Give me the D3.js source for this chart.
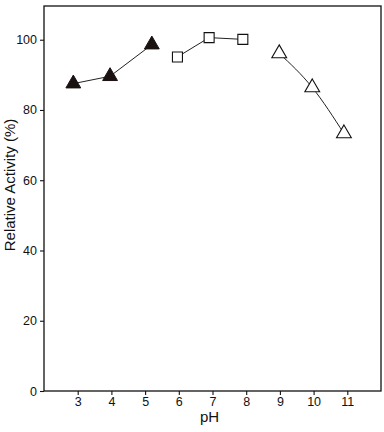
<!DOCTYPE html>
<html>
<head>
<meta charset="utf-8">
<script src="https://cdn.jsdelivr.net/npm/d3@7"></script>
<style>
  body { margin: 0; background: #fff; }
  svg text { font-family: "Liberation Sans", Arial, sans-serif; fill: #111; }
</style>
</head>
<body>
<svg id="svg" width="384" height="432"></svg>
<script>
// pH activity profile, three buffer systems
const acidPH = [2.87, 3.96, 5.2];
const acidAct = [87.5, 89.6, 98.6];
const neutralPH = [5.96, 6.9, 7.9];
const neutralAct = [95.1, 100.6, 100.1];
const basicPH = [8.98, 9.96, 10.9];
const basicAct = [96.1, 86.4, 73.3];

const xTicks = [3, 4, 5, 6, 7, 8, 9, 10, 11];
const yTicks = [0, 20, 40, 60, 80, 100];

const plot = { left: 44, right: 381, top: 6, bottom: 391 };

const svg = d3.select('#svg');

const xScale = d3.scaleLinear().domain([2, 12]).range([plot.left, plot.right]);
const yScale = d3.scaleLinear().domain([0, 109.6]).range([plot.bottom, plot.top]);

// frame
svg.append('rect')
  .attr('x', plot.left)
  .attr('y', plot.top)
  .attr('width', plot.right - plot.left)
  .attr('height', plot.bottom - plot.top)
  .style('fill', 'none')
  .style('stroke', '#111')
  .style('stroke-width', 1.3);

const xAxisG = svg.append('g')
  .attr('transform', `translate(0,${plot.bottom})`)
  .call(d3.axisBottom(xScale).tickValues(xTicks).tickSize(4).tickPadding(2));
xAxisG.select('path.domain').remove();

const yAxisG = svg.append('g')
  .attr('transform', `translate(${plot.left},0)`)
  .call(d3.axisLeft(yScale).tickValues(yTicks).tickSize(4).tickPadding(3));
yAxisG.select('path.domain').remove();

svg.selectAll('.tick line').style('stroke', '#111').style('stroke-width', 1.1);
svg.selectAll('.tick text').style('font-size', '12.5px');

svg.append('text')
  .text('pH')
  .attr('x', (plot.left + plot.right) / 2 - 3)
  .attr('y', 422)
  .attr('text-anchor', 'middle')
  .style('font-size', '15px');

svg.append('text')
  .text('Relative Activity (%)')
  .attr('transform', 'translate(15,185) rotate(-90)')
  .attr('text-anchor', 'middle')
  .style('font-size', '15px');

function series(xs, ys, curve) {
  const pts = xs.map((x, i) => [x, ys[i]]);
  const line = d3.line()
    .x(d => xScale(d[0]))
    .y(d => yScale(d[1]))
    .curve(curve);
  svg.append('path')
    .attr('d', line(pts))
    .style('fill', 'none')
    .style('stroke', '#222')
    .style('stroke-width', 1);
  return pts;
}

const acid = series(acidPH, acidAct, d3.curveLinear);
const neutral = series(neutralPH, neutralAct, d3.curveLinear);
const basic = series(basicPH, basicAct, d3.curveMonotoneX);

const tri = d3.symbol().type(d3.symbolTriangle).size(95);
const sq = d3.symbol().type(d3.symbolSquare).size(100);

svg.selectAll('.acid')
  .data(acid)
  .join('path')
  .attr('class', 'acid')
  .attr('d', tri)
  .attr('transform', d => `translate(${xScale(d[0])},${yScale(d[1])})`)
  .style('fill', '#1a1111')
  .style('stroke', '#1a1111')
  .style('stroke-width', 1);

svg.selectAll('.neutral')
  .data(neutral)
  .join('path')
  .attr('class', 'neutral')
  .attr('d', sq)
  .attr('transform', d => `translate(${xScale(d[0])},${yScale(d[1])})`)
  .style('fill', '#fff')
  .style('stroke', '#111')
  .style('stroke-width', 1.1);

svg.selectAll('.basic')
  .data(basic)
  .join('path')
  .attr('class', 'basic')
  .attr('d', tri)
  .attr('transform', d => `translate(${xScale(d[0])},${yScale(d[1])})`)
  .style('fill', '#fff')
  .style('stroke', '#111')
  .style('stroke-width', 1.1);
</script>
</body>
</html>
